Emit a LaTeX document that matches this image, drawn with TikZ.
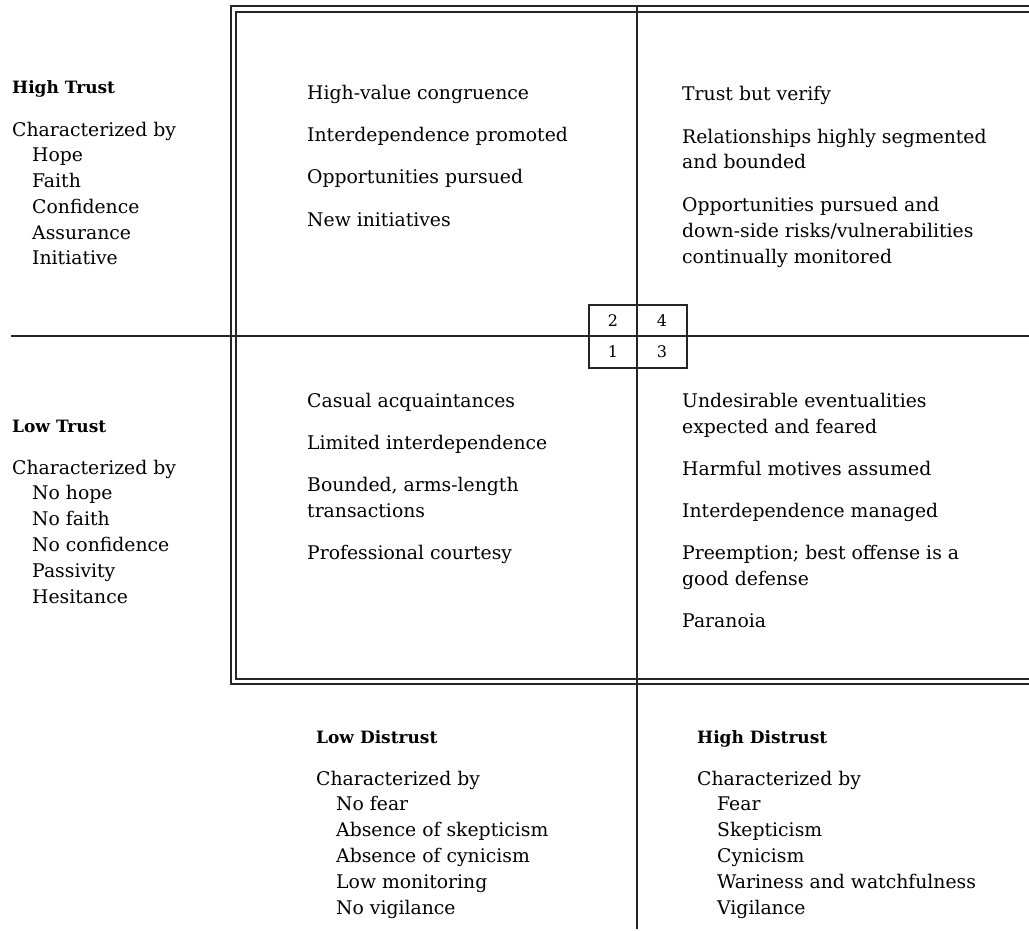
\documentclass[tikz,border=0pt]{standalone}
\usepackage{fontspec}
\setmainfont{DejaVu Serif}
\begin{document}
\begin{tikzpicture}[x=1pt,y=-1pt,
  txt/.style={anchor=base west, inner sep=0pt, align=left, font=\fontsize{18.8}{25.8}\selectfont},
  hd/.style={anchor=base west, inner sep=0pt, font=\fontsize{17}{25.8}\selectfont\bfseries},
  rule/.style={line width=1.2pt, draw=black!85},
  num/.style={anchor=center, inner sep=0pt, font=\fontsize{16}{16}\selectfont}]
\useasboundingbox (0,0) rectangle (1029,931);
% frame (double line, open at right)
\draw[rule] (1029,6) -- (231,6) -- (231,684) -- (1029,684);
\draw[rule] (1029,12) -- (236,12) -- (236,679) -- (1029,679);
% axes
\draw[rule] (11,336) -- (1029,336);
\draw[rule] (637,6) -- (637,929);
% central key box
\draw[rule] (589,305) rectangle (687,368);
\node[num] (n2) at (613,321) {2};
\node[num] (n4) at (662,321) {4};
\node[num] (n1) at (613,352) {1};
\node[num] (n3) at (662,352) {3};
% left column (base anchor = last line)
\node[hd] (ht) at (12,94) {High Trust};
\node[txt] (htc) at (12,265) {Characterized by\\\hspace*{20pt}Hope\\\hspace*{20pt}Faith\\\hspace*{20pt}Confidence\\\hspace*{20pt}Assurance\\\hspace*{20pt}Initiative};
\node[hd] (lt) at (12,432) {Low Trust};
\node[txt] (ltc) at (12,603) {Characterized by\\\hspace*{20pt}No hope\\\hspace*{20pt}No faith\\\hspace*{20pt}No confidence\\\hspace*{20pt}Passivity\\\hspace*{20pt}Hesitance};
% quadrant 2 (top left)
\node[txt] (q2a) at (307,100) {High-value congruence};
\node[txt] (q2b) at (307,142) {Interdependence promoted};
\node[txt] (q2c) at (307,184) {Opportunities pursued};
\node[txt] (q2d) at (307,226) {New initiatives};
% quadrant 4 (top right)
\node[txt] (q4a) at (682,101) {Trust but verify};
\node[txt] (q4b) at (682,169) {Relationships highly segmented\\and bounded};
\node[txt] (q4c) at (682,263) {Opportunities pursued and\\down-side risks/vulnerabilities\\continually monitored};
% quadrant 1 (bottom left)
\node[txt] (q1a) at (307,407) {Casual acquaintances};
\node[txt] (q1b) at (307,449) {Limited interdependence};
\node[txt] (q1c) at (307,517) {Bounded, arms-length\\transactions};
\node[txt] (q1d) at (307,559) {Professional courtesy};
% quadrant 3 (bottom right)
\node[txt] (q3a) at (682,433) {Undesirable eventualities\\expected and feared};
\node[txt] (q3b) at (682,475) {Harmful motives assumed};
\node[txt] (q3c) at (682,517) {Interdependence managed};
\node[txt] (q3d) at (682,585) {Preemption; best offense is a\\good defense};
\node[txt] (q3e) at (682,627) {Paranoia};
% bottom labels
\node[hd] (ld) at (316,743) {Low Distrust};
\node[txt] (ldc) at (316,914) {Characterized by\\\hspace*{20pt}No fear\\\hspace*{20pt}Absence of skepticism\\\hspace*{20pt}Absence of cynicism\\\hspace*{20pt}Low monitoring\\\hspace*{20pt}No vigilance};
\node[hd] (hdt) at (697,743) {High Distrust};
\node[txt] (hdc) at (697,914) {Characterized by\\\hspace*{20pt}Fear\\\hspace*{20pt}Skepticism\\\hspace*{20pt}Cynicism\\\hspace*{20pt}Wariness and watchfulness\\\hspace*{20pt}Vigilance};
\end{tikzpicture}
\end{document}
